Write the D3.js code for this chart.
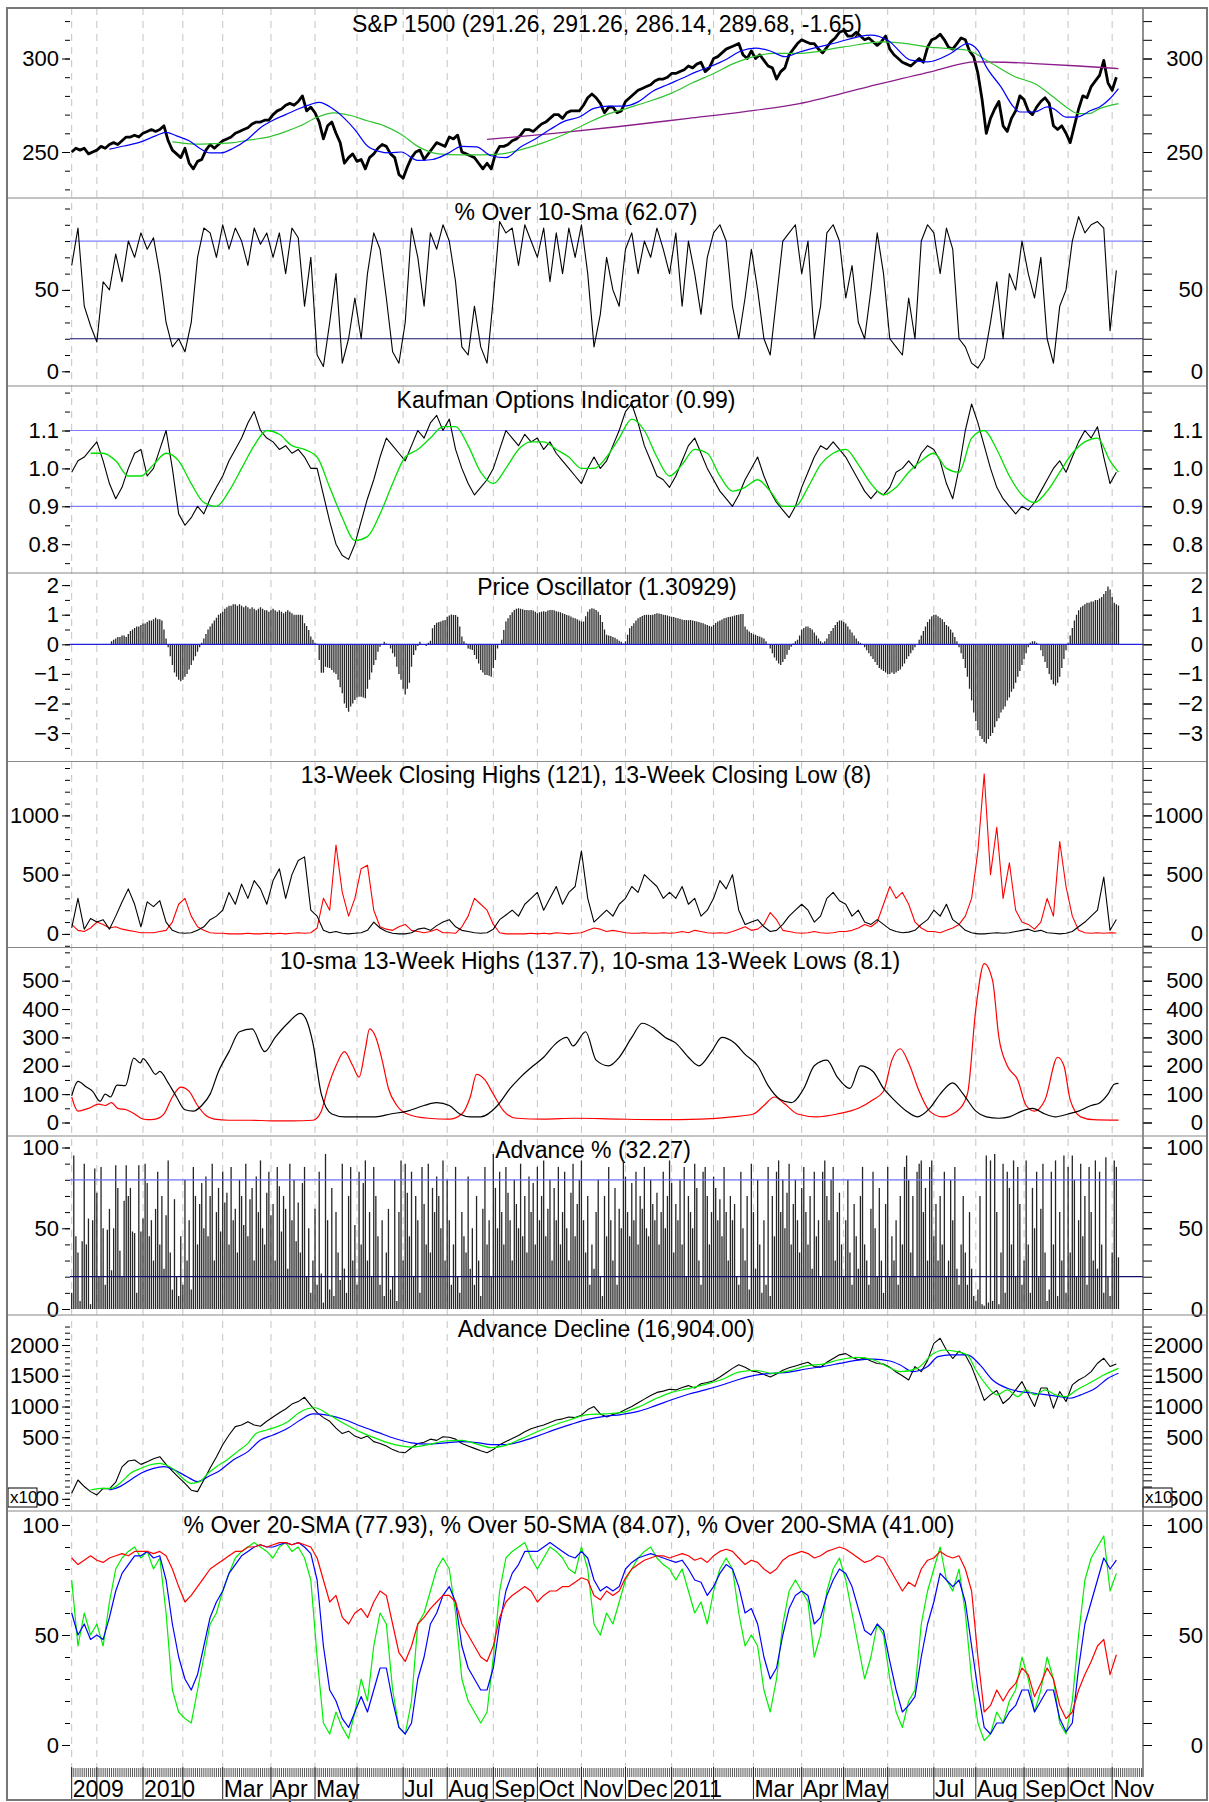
<!DOCTYPE html>
<html>
<head>
<meta charset="utf-8">
<script src="https://cdn.jsdelivr.net/npm/d3@7/dist/d3.min.js"></script>
<style>
body { margin: 0; background: #fff; }
svg text { font-family: "Liberation Sans", Arial, Helvetica, sans-serif; }
</style>
</head>
<body>
<script>
// trading-day index: 0 = mid Nov 2009, 499 = 3 Nov 2011
const monthIdx = [0,12,34,53,72,95,116,136,158,179,201,222,243,264,286,306,325,348,368,389,411,431,454,475,496];
const monthLbl = ["2009","","2010","","Mar","Apr","May","","Jul","Aug","Sep","Oct","Nov","Dec","2011","","Mar","Apr","May","","Jul","Aug","Sep","Oct","Nov"];

// S&P 1500 close, every 2nd trading day
const spxClose = [250,252,251,252,249,250, 251,253,252,254,255,254,256,258,258,259,258,
  260,261,262,261,262,264,256,251,249,247, 252,244,241,245,246,251,254,252,254,
  256,257,258,260,261,262,263,265,266,266,267,267, 270,272,273,275,276,275,277,280,272,274,
  271,266,257,264,266,260,255,244,247,249, 245,246,241,247,249,252,254,253,249,247,238,
  236,242,247,250,251,246,249,252,255,254,253, 258,257,259,250,249,248,247,244,241,244,241,
  249,253,253,254,256,257,259,262,262,261, 263,265,266,268,270,270,268,271,272,272,272,
  275,279,281,279,276,271,274,274,271,272, 277,279,281,283,284,285,286,288,289,289,290,
  292,292,293,294,296,295,297,298,293,295, 300,301,303,305,306,307,308,302,300,304,
  300,302,299,296,295,289,293,295,302,305,308, 310,309,308,308,305,303,306,309,311,314,
  315,312,312,314,312,310,311,309,307,309,312, 305,302,300,298,297,296,298,300,298,306,310,
  311,313,310,306,305,308,311,310,304,301, 292,278,260,268,273,277,264,261,268,272,280,
  278,272,270,274,277,279,276,264,262,264,260, 255,264,273,280,279,285,288,291,299,287, 283,290];

// moving averages as [day, value]
const spxMa20 = [[18,251.5],[25,253.2],[33,255.4],[40,258.6],[45,260.5],[50,258.6],[56,256],[61,252],[66,249.5],[71,249.5],[77,252],[84,257],[90,263],[96,267],[102,270],[108,273],[114,275.5],[118,276.5],[124,273.5],[130,268],[135,262],[141,253.2],[146,250.5],[152,249.5],[157,250],[165,245.5],[172,246],[179,249],[186,253],[193,252.7],[200,248],[207,247],[214,252.7],[221,257],[228,262],[235,266.5],[242,268.7],[249,273.3],[256,274.5],[263,274.5],[270,276.8],[277,282.5],[284,286],[291,289.4],[298,293],[305,296],[312,299.5],[319,304],[326,305.5],[333,304],[340,301],[347,303.5],[363,308],[381,312.5],[389,309.8],[400,299.1],[408,298.2],[419,302.7],[427,308],[432,304.4],[436,295.5],[443,284.8],[449,274.1],[452,271.4],[459,271.4],[465,274.1],[468,273.2],[474,268.7],[479,268.7],[486,272.3],[490,274.1],[495,278.6],[499,283.9]];
const spxMa50 = [[48,255.4],[55,254.5],[61,254.2],[69,254.5],[77,255],[85,256.5],[93,257.8],[101,260.5],[109,264],[117,268.6],[125,270.9],[133,269.5],[141,266.7],[149,264],[157,259.5],[165,253],[175,249],[185,248.5],[195,248.5],[205,249],[215,251.5],[225,255],[235,259.5],[245,265],[255,270],[265,273.5],[275,277],[286,281.5],[296,287],[306,292],[316,297.5],[325,301],[335,302.7],[347,302.7],[368,306.2],[387,308.9],[398,308],[408,306.2],[427,304.4],[436,299.1],[450,290.1],[459,286.6],[468,279.4],[474,274.1],[480,270.5],[485,270.5],[490,273.2],[499,275.9]];
const spxMa200 = [[198,256.7],[230,260],[260,263.5],[294,268],[320,271.5],[347,275.9],[380,285],[410,293],[431,298.2],[445,298],[459,297.3],[480,296],[499,294.6]];

// every 3rd trading day
const pctOver10 = [65,88,40,28, 18,55,50,72,55,80,70,85, 75,82,60,30,15,20, 12,30,70,88,85,70,
  90,75,88,80,65,88,78,85, 70,85,60,88,82,40,70, 10,3,30,60,5,20,45, 20,60,85,75,45,12,5,
  30,88,70,40,85,75,90, 80,55,15,10,40,15,5, 45,92,85,88,65,90,80, 70,88,55,85,60,88,70,
  90,60,15,35,70,50,40, 75,85,60,80,70,88,75,60, 85,40,80,60,35,70, 85,90,80,40,20,45,75,
  50,20,10,45,80,85,90, 60,80,20,40,85,90,80, 45,65,30,20,50,85,60, 20,15,10,45,20,80,90,
  85,60,88,75,20,15,5, 2,8,30,55,20,60,50,80, 60,45,70,20,5,40,50, 80,95,85,90,92,88,25, 62];

const kaufman = [0.99,1.02,1.03,1.05, 1.07,1.02,0.96,0.92,0.95,1.0,1.04,1.05, 0.98,1.0,1.05,1.1,1.0,0.88,
  0.85,0.87,0.9,0.88,0.92,0.95, 0.98,1.02,1.05,1.08,1.12,1.15,1.1,1.08, 1.07,1.05,1.06,1.04,1.05,1.03,1.0,
  1.0,0.93,0.86,0.8,0.77,0.76,0.8, 0.86,0.92,0.97,1.03,1.08,1.06,1.04, 1.02,1.06,1.1,1.08,1.12,1.14,1.1,
  1.13,1.05,1.0,0.96,0.93,0.95,0.97, 1.0,1.05,1.1,1.08,1.06,1.09,1.07, 1.08,1.05,1.07,1.04,1.02,1.0,0.98,
  0.96,1.0,1.03,1.0,1.02,1.06,1.1, 1.15,1.17,1.12,1.06,1.02,0.98,0.97,0.95, 0.98,1.02,1.06,1.08,1.04,1.0,
  0.97,0.94,0.92,0.9,0.93,0.97,1.0, 1.03,0.98,0.94,0.91,0.89,0.87,0.9, 0.95,0.99,1.03,1.06,1.05,1.07,1.05,
  1.03,1.0,0.97,0.94,0.92,0.94,0.93, 0.95,0.99,1.0,1.02,1.0,1.04,1.06, 1.05,1.02,0.96,0.92,1.0,1.1,1.17,
  1.12,1.06,1.0,0.95,0.92,0.9,0.88,0.9, 0.89,0.91,0.94,0.97,1.0,1.02,0.99, 1.03,1.07,1.1,1.08,1.11,1.03,0.96, 0.99];
const kaufmanSig = [[9,1.04],[15,1.04],[21,1.02],[27,0.98],[33,0.98],[39,1.01],[45,1.04],[51,1.02],[57,0.96],[63,0.91],[69,0.9],[75,0.94],[81,1.0],[87,1.06],[93,1.1],[99,1.09],[105,1.06],[111,1.05],[117,1.03],[123,0.95],[129,0.87],[135,0.81],[141,0.82],[147,0.88],[153,0.96],[159,1.03],[165,1.05],[171,1.08],[177,1.11],[183,1.11],[189,1.06],[195,0.99],[201,0.96],[207,1.0],[213,1.05],[219,1.07],[225,1.07],[231,1.05],[237,1.03],[243,1.0],[249,1.0],[255,1.03],[261,1.08],[267,1.13],[273,1.1],[279,1.03],[285,0.98],[291,1.01],[297,1.05],[303,1.04],[309,0.98],[315,0.94],[321,0.95],[327,0.97],[333,0.94],[339,0.9],[345,0.9],[351,0.95],[357,1.01],[363,1.04],[369,1.05],[375,1.01],[381,0.96],[387,0.93],[393,0.95],[399,0.99],[405,1.02],[411,1.04],[417,1.0],[423,0.99],[429,1.08],[435,1.1],[441,1.05],[447,0.98],[453,0.93],[459,0.91],[465,0.94],[471,0.99],[477,1.04],[483,1.07],[489,1.08],[495,1.02],[499,0.99]];

// price oscillator, daily
const priceOsc = [0,0,0,0,0,0,0,0,0,0,0,0,0,0,0,0,0,0,0,
  0.1,0.15,0.2,0.25,0.25,0.3,0.3,0.25,0.35,0.45,0.5,0.55,0.6,0.6,0.65,0.7,0.7,0.75,0.8,0.8,0.85,0.9,0.85,0.85,0.8,
  0.5,0.2,-0.1,-0.4,-0.7,-0.95,-1.1,-1.2,-1.25,-1.2,-1.1,-1,-0.85,-0.7,-0.55,-0.4,-0.25,-0.1,0.05,0.2,0.35,0.5,0.6,0.7,0.8,0.9,1,1.05,1.1,
  1.2,1.25,1.3,1.3,1.35,1.35,1.3,1.35,1.3,1.25,1.3,1.25,1.2,1.25,1.2,1.15,1.2,1.25,1.2,1.15,1.15,1.1,1.15,1.2,1.15,1.1,1.15,1.1,1.05,1.1,1.15,1.1,1.05,1,1,1,
  1,0.98,0.71,0.62,0.48,0.26,0.15,0.05,0.02,
  -0.53,-0.96,-0.96,-0.76,-0.78,-0.8,-0.87,-0.95,-1,-1.2,-1.45,-1.65,-2,-2.15,-2.28,-2.1,-2,-1.88,-1.8,-1.77,-1.77,-1.8,-1.82,-1.5,-1.2,-0.95,-0.7,-0.53,-0.25,-0.08,0,
  0.09,0.03,0,-0.14,-0.3,-0.42,-0.76,-1,-1.2,-1.5,-1.7,-1.5,-1.3,-0.76,-0.36,-0.2,-0.06,0.09,-0.02,-0.02,-0.06,0.05,0.12,
  0.54,0.65,0.73,0.75,0.77,0.8,0.82,0.93,0.97,1.01,0.99,0.99,0.93,0.6,0.26,0.1,0.03,
  -0.14,-0.17,-0.19,-0.36,-0.5,-0.65,-0.87,-0.95,-1.04,-1.04,-1.06,-1.1,-0.8,-0.53,-0.14,0,0.15,
  0.48,0.77,0.88,0.99,1.08,1.16,1.2,1.22,1.2,1.18,1.16,1.16,1.15,1.16,1.14,1.1,1.05,1.08,1.1,1.12,1.1,1.14,1.16,1.16,1.15,1.12,1.1,1.08,1.05,1.02,
  0.99,0.97,0.94,0.9,0.88,0.85,0.8,0.77,0.77,0.95,1.1,1.18,1.22,1.2,1.16,1.1,0.99,0.75,0.5,0.32,0.3,0.28,0.25,0.22,0.17,0.12,0.09,0.03,0.1,
  0.32,0.54,0.62,0.71,0.8,0.88,0.92,0.96,0.99,1,1,0.99,1,1.02,1.05,1.04,1.02,1,0.99,0.97,
  0.95,0.93,0.92,0.9,0.88,0.86,0.84,0.82,0.82,0.81,0.82,0.8,0.79,0.77,0.75,0.73,0.71,0.68,0.65,0.62,
  0.6,0.65,0.72,0.77,0.8,0.84,0.88,0.9,0.92,0.93,0.95,0.97,0.99,1,1.02,1.02,0.6,0.5,0.43,0.38,
  0.34,0.32,0.28,0.26,0.23,0.2,0.1,0,-0.14,-0.3,-0.45,-0.55,-0.65,-0.7,-0.6,-0.5,-0.35,-0.19,-0.08,0.03,0.1,0.15,0.3,
  0.5,0.55,0.6,0.6,0.55,0.5,0.4,0.3,0.2,0.1,0.05,
  0.1,0.2,0.35,0.45,0.55,0.65,0.75,0.8,0.8,0.75,0.7,0.6,0.5,0.4,
  0.3,0.2,0.1,0.05,0,-0.1,-0.2,-0.3,
  -0.4,-0.5,-0.6,-0.7,-0.8,-0.85,-0.9,-0.95,-1,-1,-0.95,-1,-0.95,-0.9,-0.85,-0.75,-0.65,-0.5,-0.4,-0.3,-0.2,-0.1,0,
  0.15,0.3,0.45,0.6,0.75,0.85,0.95,1,1,0.95,0.9,0.85,0.75,0.65,0.6,0.5,0.4,0.25,0.1,
  -0.1,-0.3,-0.5,-0.8,-1.1,-1.5,-1.9,-2.3,-2.6,-2.9,-3.1,-3.2,-3.3,-3.35,
  -3.2,-3.1,-3,-2.8,-2.6,-2.5,-2.3,-2.2,-2.1,-1.9,-1.8,-1.6,-1.5,-1.3,-1.1,-0.9,-0.7,-0.5,-0.3,-0.1,
  0.05,0.1,0.1,0.05,0,-0.2,
  -0.4,-0.6,-0.8,-1,-1.2,-1.35,-1.4,-1.3,-1.1,-0.8,-0.5,-0.2,0.05,0.3,
  0.55,0.8,1,1.15,1.25,1.3,1.35,1.4,1.4,1.45,1.45,1.5,1.5,1.55,1.6,1.7,1.8,1.95,1.85,1.6,1.4,1.35,1.31];

// 13-week closing highs / lows, every 3rd trading day
const highs13 = [50,300,40,130, 100,120,40,150,270,380,250,60, 270,230,280,100,30,10, 5,10,30,60,120,150,
  200,350,250,420,300,450,380,250, 450,550,300,500,620,650,200, 150,30,10,20,5,0,5, 10,30,100,50,20,5,0,
  0,10,40,50,30,70,100, 120,60,30,20,10,5,10, 40,120,160,200,150,250,300, 350,200,300,400,250,350,400,
  700,300,100,150,200,150,250, 300,400,350,500,450,400,300,350, 300,400,250,300,150,200, 300,450,380,500,200,80,100,
  120,60,20,30,80,150,200, 250,200,100,150,300,350,280, 250,150,200,100,80,120,80, 40,20,10,15,30,80,120,
  200,150,250,120,80,30,10, 0,0,5,10,5,10,20,30, 40,20,30,10,5,0,5, 20,60,100,150,200,480,30, 121];
const lows13 = [80,30,20,50, 100,80,50,60,40,30,20,10, 10,10,20,30,100,250, 300,150,60,30,10,5,
  5,0,0,0,5,0,0,5, 0,5,0,5,10,5,10, 50,300,200,750,350,150,300, 550,580,200,60,40,30,60,
  80,30,20,10,20,40,10, 10,5,60,150,300,250,200, 80,10,0,0,0,0,5, 0,5,0,10,5,0,5,
  10,30,50,40,20,30,20, 10,5,5,10,5,5,10,5, 10,20,10,30,20,10, 5,10,5,20,40,60,30,
  40,80,180,120,30,20,10, 5,10,20,10,5,10,20, 20,30,50,80,60,100,250, 400,300,350,250,100,50,20,
  20,10,30,50,80,150,300, 700,1350,500,900,300,600,200,100, 80,40,100,300,150,780,400, 150,30,10,5,10,5,10, 8];

// 10-sma of the above, [day, value]
const highs10 = [[0,94],[3,145],[7,125],[10,110],[13.5,75],[16,100],[18.5,90],[21.6,132],[25.6,130],[29.6,227],[32.8,210],[34,225],[37,200],[40,170],[42,180],[46,140],[50,90],[54,45],[58,40],[62,60],[66,100],[70,180],[75,250],[80,320],[86,330],[92,250],[97,300],[103,350],[109,385],[112,360],[115,280],[119,100],[124,30],[130,20],[145,20],[152,30],[160,40],[168,60],[174,70],[180,60],[185,30],[190,20],[195,20],[203,60],[209,120],[214,160],[220,200],[225,230],[231,280],[236,300],[239,270],[245,320],[250,220],[256,200],[261,230],[267,300],[272,350],[278,330],[283,300],[288,280],[294,230],[299,200],[305,250],[310,300],[316,280],[321,240],[327,200],[332,130],[338,80],[343,70],[349,120],[354,200],[360,220],[365,160],[371,120],[376,200],[382,180],[387,120],[392,80],[398,40],[403,20],[409,50],[414,100],[420,140],[425,100],[431,40],[436,20],[442,15],[447,20],[453,40],[458,50],[464,30],[469,20],[475,30],[480,40],[486,60],[490,69],[494,100],[497,135],[499,137.7]];
const lows10 = [[0,90],[3,40],[8,50],[13,65],[16,60],[19,70],[22,50],[26,45],[30,30],[33,15],[36,10],[40,12],[44,30],[48,90],[52,125],[56,110],[60,60],[64,25],[68,12],[75,8],[85,8],[95,6],[105,6],[115,8],[119,40],[122,120],[126,200],[130,250],[134,200],[137,160],[140,260],[142,330],[145,300],[148,220],[151,120],[155,60],[160,30],[170,15],[180,12],[186,30],[190,90],[193,170],[197,150],[201,100],[206,40],[212,15],[225,12],[240,15],[260,12],[280,10],[300,12],[315,20],[325,30],[330,60],[335,90],[340,65],[346,30],[355,20],[365,30],[375,50],[382,80],[387,110],[391,220],[395,260],[399,210],[404,110],[409,40],[415,20],[422,40],[427,100],[431,400],[435,560],[439,500],[442,300],[446,200],[451,150],[455,60],[459,40],[464,80],[470,230],[473,200],[476,80],[481,20],[487,10],[499,8.1]];

// advance %, daily
const advPct = [10,95,45,35,5,42,90,40,56,3,55,87,72,20,88,50,15,49,62,24,50,89,75,36,20,
  67,89,70,75,48,47,10,89,48,56,90,78,45,55,30,62,85,40,70,25,58,92,35,12,68,
  20,8,45,15,80,30,55,12,88,70,40,65,78,50,82,45,70,90,30,60,75,48,85,66,72,
  40,88,55,62,35,80,70,52,90,45,68,75,30,82,60,92,50,40,72,85,58,65,30,88,76,
  48,70,62,25,90,55,80,42,66,35,78,88,20,50,10,30,62,15,85,22,4,96,55,12,75,
  8,60,35,18,90,25,10,70,88,30,52,15,85,40,78,92,30,60,20,88,70,45,15,55,8,
  35,62,12,20,80,5,60,92,30,90,72,45,85,20,70,55,10,88,65,40,90,35,75,60,82,
  70,50,92,30,80,55,15,40,88,20,10,60,45,35,82,25,50,15,70,30,8,62,88,40,55,
  20,96,75,50,85,60,40,88,72,55,30,80,65,50,90,45,70,35,82,60,78,40,88,55,70,
  92,45,62,80,30,75,55,88,40,60,85,50,30,72,90,45,65,80,92,55,35,70,15,40,25,
  60,80,20,8,70,45,88,55,30,75,15,62,50,92,82,60,45,78,55,85,40,70,62,88,50,
  45,80,65,55,72,40,60,85,50,70,92,78,35,65,55,80,40,88,20,70,60,50,90,75,30,
  15,85,88,70,40,60,82,75,55,68,45,88,60,30,70,55,65,20,15,85,50,30,70,12,90,
  60,25,80,40,10,55,15,88,8,70,45,85,92,60,80,50,72,90,40,65,80,55,35,75,88,
  60,40,70,25,85,45,55,20,85,92,70,55,80,88,30,60,72,40,20,55,80,35,15,65,45,
  25,70,88,40,30,15,62,85,50,20,75,30,10,65,88,20,45,30,55,15,70,40,88,95,80,
  35,70,20,85,90,92,60,75,30,88,92,45,65,30,70,40,85,20,30,80,55,88,25,15,40,
  70,35,15,60,25,8,5,12,70,3,2,95,4,92,5,96,60,3,35,90,10,85,75,40,92,
  20,88,65,15,30,92,40,10,75,50,85,20,62,90,35,5,12,85,40,92,8,60,30,95,10,
  88,35,95,80,20,55,90,45,70,15,88,60,30,92,25,85,40,10,94,20,8,35,92,88,32];

// advance-decline line (x10), every 3rd trading day
const adLine = [-410,-194,-300,-383, -437,-330,-340,-230,20,115,130,60, 104,150,185,60,-50,-150, -250,-360,-383,-194,0,180,
  380,537,673,700,754,700,680,760, 830,900,960,1040,1080,1150,1020, 900,820,760,650,560,600,520, 480,520,430,400,360,300,260,
  250,330,400,420,470,450,510, 500,470,400,360,320,280,250, 300,380,430,480,530,590,640, 670,700,740,780,800,830,820,
  860,950,1000,880,830,870,900, 950,1000,1060,1120,1180,1230,1250,1280, 1270,1310,1340,1300,1370,1390, 1420,1480,1550,1620,1680,1640,1580,
  1560,1520,1480,1530,1590,1630,1660, 1690,1720,1650,1640,1720,1780,1840, 1860,1800,1760,1790,1740,1700,1690, 1640,1560,1500,1432,1649,1567,1750,
  2027,2109,1919,1780,1900,1838,1649, 1380,1100,1189,1260,1050,1135,1270,1405, 1200,1000,1300,1300,973,1243,1081, 1351,1432,1486,1567,1703,1784,1650, 1690];
const adFast = [[9,-356],[14,-329],[19,-329],[23,-248],[28,-85],[33,-4],[37,50],[42,77],[45,50],[49,-31],[53,-167],[57,-248],[61,-221],[65,-85],[69,23],[74,131],[79,267],[84,402],[88,565],[93,619],[98,673],[103,754],[108,890],[112,960],[116,980],[122,880],[130,720],[138,580],[146,470],[154,380],[162,340],[170,380],[178,440],[186,450],[194,380],[200,330],[206,360],[214,470],[222,590],[230,700],[238,790],[246,870],[254,880],[262,900],[270,990],[278,1120],[286,1230],[294,1290],[302,1360],[310,1440],[318,1560],[326,1590],[334,1540],[342,1580],[350,1660],[358,1690],[366,1760],[374,1800],[382,1760],[390,1630],[395,1567],[403,1621],[411,1865],[416,1919],[422,1892],[427,1838],[431,1594],[436,1351],[441,1189],[446,1270],[451,1162],[455,1270],[459,1189],[464,1270],[469,1189],[474,1162],[479,1270],[485,1378],[492,1513],[499,1621]];
const adSlow = [[18,-356],[23,-302],[28,-194],[33,-85],[39,-4],[44,23],[49,-31],[55,-140],[60,-221],[65,-140],[71,-31],[77,131],[84,267],[90,456],[96,537],[103,646],[109,781],[115,880],[122,860],[130,790],[138,680],[146,580],[154,480],[162,410],[170,390],[178,410],[186,430],[194,410],[200,380],[206,380],[214,430],[222,520],[230,620],[238,710],[246,790],[254,840],[262,870],[270,920],[278,1010],[286,1110],[294,1200],[302,1270],[310,1350],[318,1440],[326,1510],[334,1540],[342,1560],[350,1610],[358,1650],[366,1700],[374,1750],[382,1770],[390,1740],[395,1676],[401,1567],[408,1649],[413,1811],[419,1838],[427,1838],[433,1676],[439,1432],[446,1297],[452,1243],[459,1216],[465,1189],[471,1162],[476,1135],[481,1189],[488,1297],[494,1459],[499,1540]];

// % over 20/50/200-sma, every 3rd trading day
const pct20 = [75,45,60,50, 55,45,65,80,85,88,90,85, 88,80,85,60,25,15, 12,10,25,40,55,60, 70,78,85,88,90,92,90,88,
  85,90,92,88,90,85,75, 40,10,5,15,8,3,15, 30,20,45,60,55,25,8, 5,20,55,60,70,80,85, 80,60,30,20,15,10,15,
  40,70,85,88,90,92,85, 80,85,90,88,85,80,78, 90,80,55,50,60,55,65, 75,80,85,88,90,85,82,80, 75,80,70,60,65,55,
  70,80,85,80,60,45,50, 45,25,15,30,55,70,75, 70,65,40,50,70,80,85, 75,60,45,30,40,55,50, 30,15,8,20,25,55,70,
  80,90,75,70,80,60,30, 10,2,5,15,10,20,25,40, 30,15,25,40,30,10,5, 20,50,75,85,90,95,70, 78];
const pct50 = [60,50,55,48, 50,48,58,70,78,82,86,86, 88,85,86,75,55,40, 30,25,32,45,58,65, 70,78,82,86,88,90,91,90,
  90,91,92,91,92,90,87, 75,45,25,20,12,8,15, 22,15,25,35,35,20,8, 5,10,30,40,55,60,68, 72,65,45,35,30,25,25,
  35,55,70,78,82,88,88, 88,90,92,90,88,86,85, 88,85,75,70,72,70,72, 80,83,85,86,87,86,85,84, 83,84,80,75,74,68,
  72,78,82,80,72,60,62, 55,40,30,35,50,62,68, 70,68,55,58,68,75,80, 78,72,62,52,50,55,52, 38,25,15,18,22,40,55,
  65,78,75,72,75,65,45, 25,8,5,10,10,15,18,25, 25,15,20,25,25,12,6, 10,35,55,65,75,85,80, 84];
const pct200 = [85,82,84,86, 84,83,85,86,87,86,88,88, 88,87,88,86,80,72, 65,68,72,76,80,82, 84,86,88,88,90,90,91,90,
  91,92,92,91,92,91,90, 85,75,65,68,58,55,60, 62,58,65,70,68,55,42, 38,45,55,58,62,65,68, 68,65,55,50,45,40,38,
  45,58,65,68,70,72,70, 65,68,70,70,72,72,74, 76,75,68,66,70,68,70, 76,80,82,84,85,86,86,85, 86,87,86,84,85,83,
  86,88,89,88,85,82,84, 83,80,78,80,84,86,87, 88,87,85,86,88,89,90, 89,87,85,83,84,86,85, 80,75,70,74,72,80,84,
  85,88,86,85,86,80,70, 40,15,18,25,20,25,28,35, 32,22,28,35,30,18,12, 15,25,32,38,45,48,32, 41];

const titles = [
  "S&P 1500 (291.26, 291.26, 286.14, 289.68, -1.65)",
  "% Over 10-Sma (62.07)",
  "Kaufman Options Indicator (0.99)",
  "Price Oscillator (1.30929)",
  "13-Week Closing Highs (121), 13-Week Closing Low (8)",
  "10-sma 13-Week Highs (137.7), 10-sma 13-Week Lows (8.1)",
  "Advance % (32.27)",
  "Advance Decline (16,904.00)",
  "% Over 20-SMA (77.93), % Over 50-SMA (84.07), % Over 200-SMA (41.00)"
];

// ---------------- layout ----------------
const W = 1209, H = 1802, L = 70, R = 1143, plotBottom = 1767;
const svg = d3.select("body").append("svg").attr("width", W).attr("height", H);
const x = d3.scaleLinear().domain([-0.8, 510.7]).range([L, R]);
const f0 = d3.format("d"), f1 = d3.format(".1f");

const panels = [
  {t: 8,     b: 198,   y: d3.scaleLinear().domain([250, 300]).range([152, 58.5]),    minor: d3.range(230, 321, 10),  major: [250, 300], fmt: f0, tx: 607, tb: 32},
  {t: 198,   b: 386,   y: d3.scaleLinear().domain([0, 100]).range([371.3, 208.5]),   minor: d3.range(0, 101, 10),    major: [0, 50], fmt: f0, tx: 576},
  {t: 386,   b: 573,   y: d3.scaleLinear().domain([0.9, 1.1]).range([506.3, 430.5]), minor: d3.range(0.75, 1.21, 0.05), major: [0.8, 0.9, 1.0, 1.1], fmt: f1, tx: 566},
  {t: 573,   b: 761.5, y: d3.scaleLinear().domain([0, 1]).range([644.3, 614.7]),     minor: d3.range(-3.5, 2.01, 0.5), major: [-3, -2, -1, 0, 1, 2], fmt: f0, tx: 607},
  {t: 761.5, b: 947.5, y: d3.scaleLinear().domain([0, 1000]).range([933.9, 815.4]),  minor: d3.range(-100, 1401, 100), major: [0, 500, 1000], fmt: f0, tx: 586},
  {t: 947.5, b: 1136,  y: d3.scaleLinear().domain([0, 500]).range([1122.5, 980.7]),  minor: d3.range(0, 601, 50),    major: [0, 100, 200, 300, 400, 500], fmt: f0, tx: 590},
  {t: 1136,  b: 1315,  y: d3.scaleLinear().domain([0, 100]).range([1309, 1147.5]),   minor: d3.range(0, 101, 10),    major: [0, 50, 100], fmt: f0, tx: 593},
  {t: 1315,  b: 1511,  y: d3.scaleLinear().domain([500, 2000]).range([1437.3, 1345]), minor: d3.range(-600, 2301, 100), major: [-500, 500, 1000, 1500, 2000], fmt: f0, tx: 606},
  {t: 1511,  b: plotBottom, y: d3.scaleLinear().domain([0, 100]).range([1745, 1525]), minor: d3.range(0, 101, 10),   major: [0, 50, 100], fmt: f0, tx: 569}
];

// clip per panel
const defs = svg.append("defs");
panels.forEach((p, k) => {
  defs.append("clipPath").attr("id", "clip" + k)
    .append("rect").attr("x", L).attr("y", p.t).attr("width", R - L).attr("height", p.b - p.t);
});

// month grid
svg.append("g").selectAll("line").data(monthIdx).join("line")
  .attr("x1", d => x(d)).attr("x2", d => x(d))
  .attr("y1", 8).attr("y2", plotBottom)
  .attr("stroke", "#c4c4c4").attr("stroke-width", 1).attr("stroke-dasharray", "7,6");

// axes
panels.forEach((p, k) => {
  const gl = svg.append("g").attr("transform", `translate(${L},0)`);
  gl.call(d3.axisLeft(p.y).tickValues(p.minor).tickSize(5).tickFormat(""));
  gl.append("g").call(d3.axisLeft(p.y).tickValues(p.major).tickSize(8).tickPadding(3).tickFormat(p.fmt));
  gl.selectAll(".domain").remove();
  gl.attr("font-size", 22);
  gl.selectAll("g").attr("font-size", 22);

  const gr = svg.append("g").attr("transform", `translate(${R},0)`);
  gr.call(d3.axisRight(p.y).tickValues(p.minor).tickSize(9).tickFormat(""));
  const grl = gr.append("g").call(d3.axisRight(p.y).tickValues(p.major).tickSize(9).tickFormat(p.fmt));
  grl.selectAll("text").attr("x", 60).attr("text-anchor", "end");
  gr.selectAll(".domain").remove();
  gr.selectAll("g").attr("font-size", 22);

  svg.append("text").attr("x", p.tx).attr("y", p.tb || p.t + 21.5)
    .attr("text-anchor", "middle").attr("font-size", 23).attr("fill", "#000")
    .text(titles[k]);
});

// helpers
function layer(k) { return svg.append("g").attr("clip-path", `url(#clip${k})`); }
function stepLine(g, vals, step, y, color, w) {
  const line = d3.line().x((d, i) => x(i * step)).y(d => y(d));
  g.append("path").attr("d", line(vals)).attr("fill", "none")
    .attr("stroke", color).attr("stroke-width", w).attr("stroke-linejoin", "round");
}
function pairLine(g, pts, y, color, w) {
  const line = d3.line().x(d => x(d[0])).y(d => y(d[1])).curve(d3.curveMonotoneX);
  g.append("path").attr("d", line(pts)).attr("fill", "none")
    .attr("stroke", color).attr("stroke-width", w);
}
function hRule(g, y, v, color) {
  g.append("line").attr("x1", L).attr("x2", R).attr("y1", y(v)).attr("y2", y(v))
    .attr("stroke", color).attr("stroke-width", 1.2);
}
function bars(g, vals, y, color) {
  g.selectAll(null).data(vals.map((v, i) => [i, v]).filter(d => d[1] !== 0)).join("line")
    .attr("x1", d => x(d[0])).attr("x2", d => x(d[0]))
    .attr("y1", y(0)).attr("y2", d => y(d[1]))
    .attr("stroke", color).attr("stroke-width", 1.3);
}

// 1: price
let g = layer(0);
stepLine(g, spxClose, 2, panels[0].y, "#000", 2.8);
pairLine(g, spxMa200, panels[0].y, "#8b1c8b", 1.3);
pairLine(g, spxMa50, panels[0].y, "#2fc42f", 1.2);
pairLine(g, spxMa20, panels[0].y, "#0000ff", 1.2);

// 2: % over 10-sma
g = layer(1);
hRule(g, panels[1].y, 80, "#8080ff");
hRule(g, panels[1].y, 20, "#10106e");
stepLine(g, pctOver10, 3, panels[1].y, "#000", 1.1);

// 3: kaufman
g = layer(2);
hRule(g, panels[2].y, 1.1, "#8080ff");
hRule(g, panels[2].y, 0.9, "#8080ff");
stepLine(g, kaufman, 3, panels[2].y, "#000", 1.1);
pairLine(g, kaufmanSig, panels[2].y, "#00e000", 1.3);

// 4: price oscillator
g = layer(3);
bars(g, priceOsc, panels[3].y, "#262626");
hRule(g, panels[3].y, 0, "#2020e0");

// 5: 13-week highs / lows
g = layer(4);
stepLine(g, lows13, 3, panels[4].y, "#ff0000", 1.1);
stepLine(g, highs13, 3, panels[4].y, "#000", 1.1);

// 6: 10-sma highs / lows
g = layer(5);
pairLine(g, lows10, panels[5].y, "#ff0000", 1.2);
pairLine(g, highs10, panels[5].y, "#000", 1.2);

// 7: advance %
g = layer(6);
bars(g, advPct, panels[6].y, "#262626");
hRule(g, panels[6].y, 80, "#7070ff");
hRule(g, panels[6].y, 20, "#10106e");

// 8: advance decline
g = layer(7);
stepLine(g, adLine, 3, panels[7].y, "#000", 1.1);
pairLine(g, adSlow, panels[7].y, "#0000ff", 1.2);
pairLine(g, adFast, panels[7].y, "#00ee00", 1.2);

// 9: % over SMAs
g = layer(8);
stepLine(g, pct20, 3, panels[8].y, "#00ee00", 1.2);
stepLine(g, pct50, 3, panels[8].y, "#0000ff", 1.2);
stepLine(g, pct200, 3, panels[8].y, "#ff0000", 1.2);

// x10 markers on the A/D panel
[8, R].forEach(bx => {
  svg.append("rect").attr("x", bx).attr("y", 1488).attr("width", 29).attr("height", 19)
    .attr("fill", "#fff").attr("stroke", "#000").attr("stroke-width", 1);
  svg.append("text").attr("x", bx + 2).attr("y", 1503).attr("font-size", 17).text("x10");
});

// date band: one tick per trading day, month separators and labels
const band = svg.append("g");
band.selectAll("line.day").data(d3.range(0, 511)).join("line").attr("class", "day")
  .attr("x1", d => x(d)).attr("x2", d => x(d)).attr("y1", 1768).attr("y2", 1777)
  .attr("stroke", "#555").attr("stroke-width", 1);
band.selectAll("line.mon").data(monthIdx).join("line").attr("class", "mon")
  .attr("x1", d => x(d)).attr("x2", d => x(d)).attr("y1", 1767).attr("y2", 1800)
  .attr("stroke", "#222").attr("stroke-width", 1);
band.selectAll("text").data(monthIdx).join("text")
  .attr("x", d => x(d) + 1).attr("y", 1797).attr("font-size", 23)
  .text((d, i) => monthLbl[i]);

// right axis line, panel separators, frame
svg.append("line").attr("x1", R).attr("x2", R).attr("y1", 8).attr("y2", 1777)
  .attr("stroke", "#444").attr("stroke-width", 1.2);
svg.append("g").selectAll("line").data(panels.slice(1).map(p => p.t)).join("line")
  .attr("x1", 7).attr("x2", 1207).attr("y1", d => d).attr("y2", d => d)
  .attr("stroke", "#888").attr("stroke-width", 1.2);
svg.append("rect").attr("x", 7).attr("y", 8).attr("width", 1200).attr("height", 1792)
  .attr("fill", "none").attr("stroke", "#777").attr("stroke-width", 2);
</script>
</body>
</html>
